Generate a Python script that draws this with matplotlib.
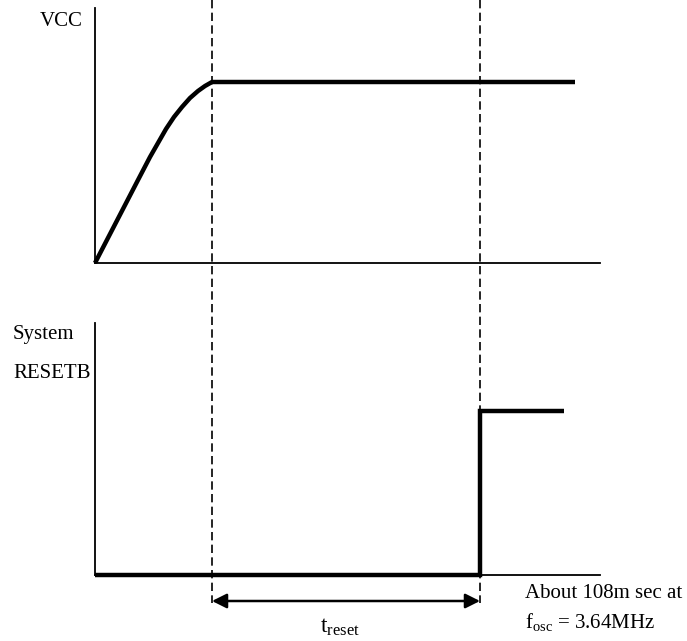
import matplotlib
matplotlib.use("Agg")
import matplotlib.pyplot as plt

plt.rcParams['font.family'] = ['Liberation Serif', 'DejaVu Serif']
plt.rcParams['mathtext.fontset'] = 'custom'
plt.rcParams['mathtext.rm'] = 'Liberation Serif'
plt.rcParams['mathtext.it'] = 'Liberation Serif:italic'

# timing diagram, positions (x = time, y = level, page units)
vcc_x = [95, 138, 150, 158, 166, 174, 182, 190, 198, 205, 212, 575]
vcc_y = [263, 180, 157, 143, 129, 117, 107, 98, 91, 86, 82, 82]

rst_x = [95, 480, 480, 564]
rst_y = [575, 575, 411, 411]

t_por = 212       # vcc settled
t_rel = 480       # reset released
axis_x0 = 95
axis_x1 = 600
vcc_axis = (8, 263)     # top, baseline
rst_axis = (323, 575)

fig = plt.figure(figsize=(6.87, 6.41), dpi=100)
ax = fig.add_axes([0, 0, 1, 1])
ax.set_xlim(0, 687)
ax.set_ylim(641, 0)
ax.axis('off')

thin = 1.3
thick = 3.2

# axes of both traces
for top, base in [vcc_axis, rst_axis]:
    ax.plot([axis_x0, axis_x0], [top, base], color='black', lw=thin)
    ax.plot([axis_x0, axis_x1], [base, base], color='black', lw=thin)

ax.plot(vcc_x, vcc_y, color='black', lw=thick, solid_capstyle='butt', solid_joinstyle='round')
ax.plot(rst_x, rst_y, color='black', lw=thick, solid_capstyle='butt', solid_joinstyle='miter')

# dashed markers
for t in [t_por, t_rel]:
    ax.plot([t, t], [0, 603], color='black', lw=1.2, dashes=(5.0, 2.6))

# t_reset arrow
ax.annotate('', xy=(t_rel, 601), xytext=(t_por, 601),
            arrowprops=dict(arrowstyle='<|-|>', color='black', lw=1.8,
                            mutation_scale=22, shrinkA=0, shrinkB=0))

fs = 15
ax.text(40, 21, 'VCC', fontsize=fs, ha='left', va='center')
ax.text(13, 335, 'System', fontsize=fs, ha='left', va='center')
ax.text(13, 373, 'RESETB', fontsize=fs, ha='left', va='center')
ax.text(340, 627, r'$\mathregular{t_{reset}}$', fontsize=fs + 2, ha='center', va='center')
ax.text(525, 594, 'About 108m sec at', fontsize=fs, ha='left', va='center')
ax.text(525, 622, r'$\mathregular{f_{osc}}$ = 3.64MHz', fontsize=fs, ha='left', va='center')

fig.savefig('out.png', dpi=100)
